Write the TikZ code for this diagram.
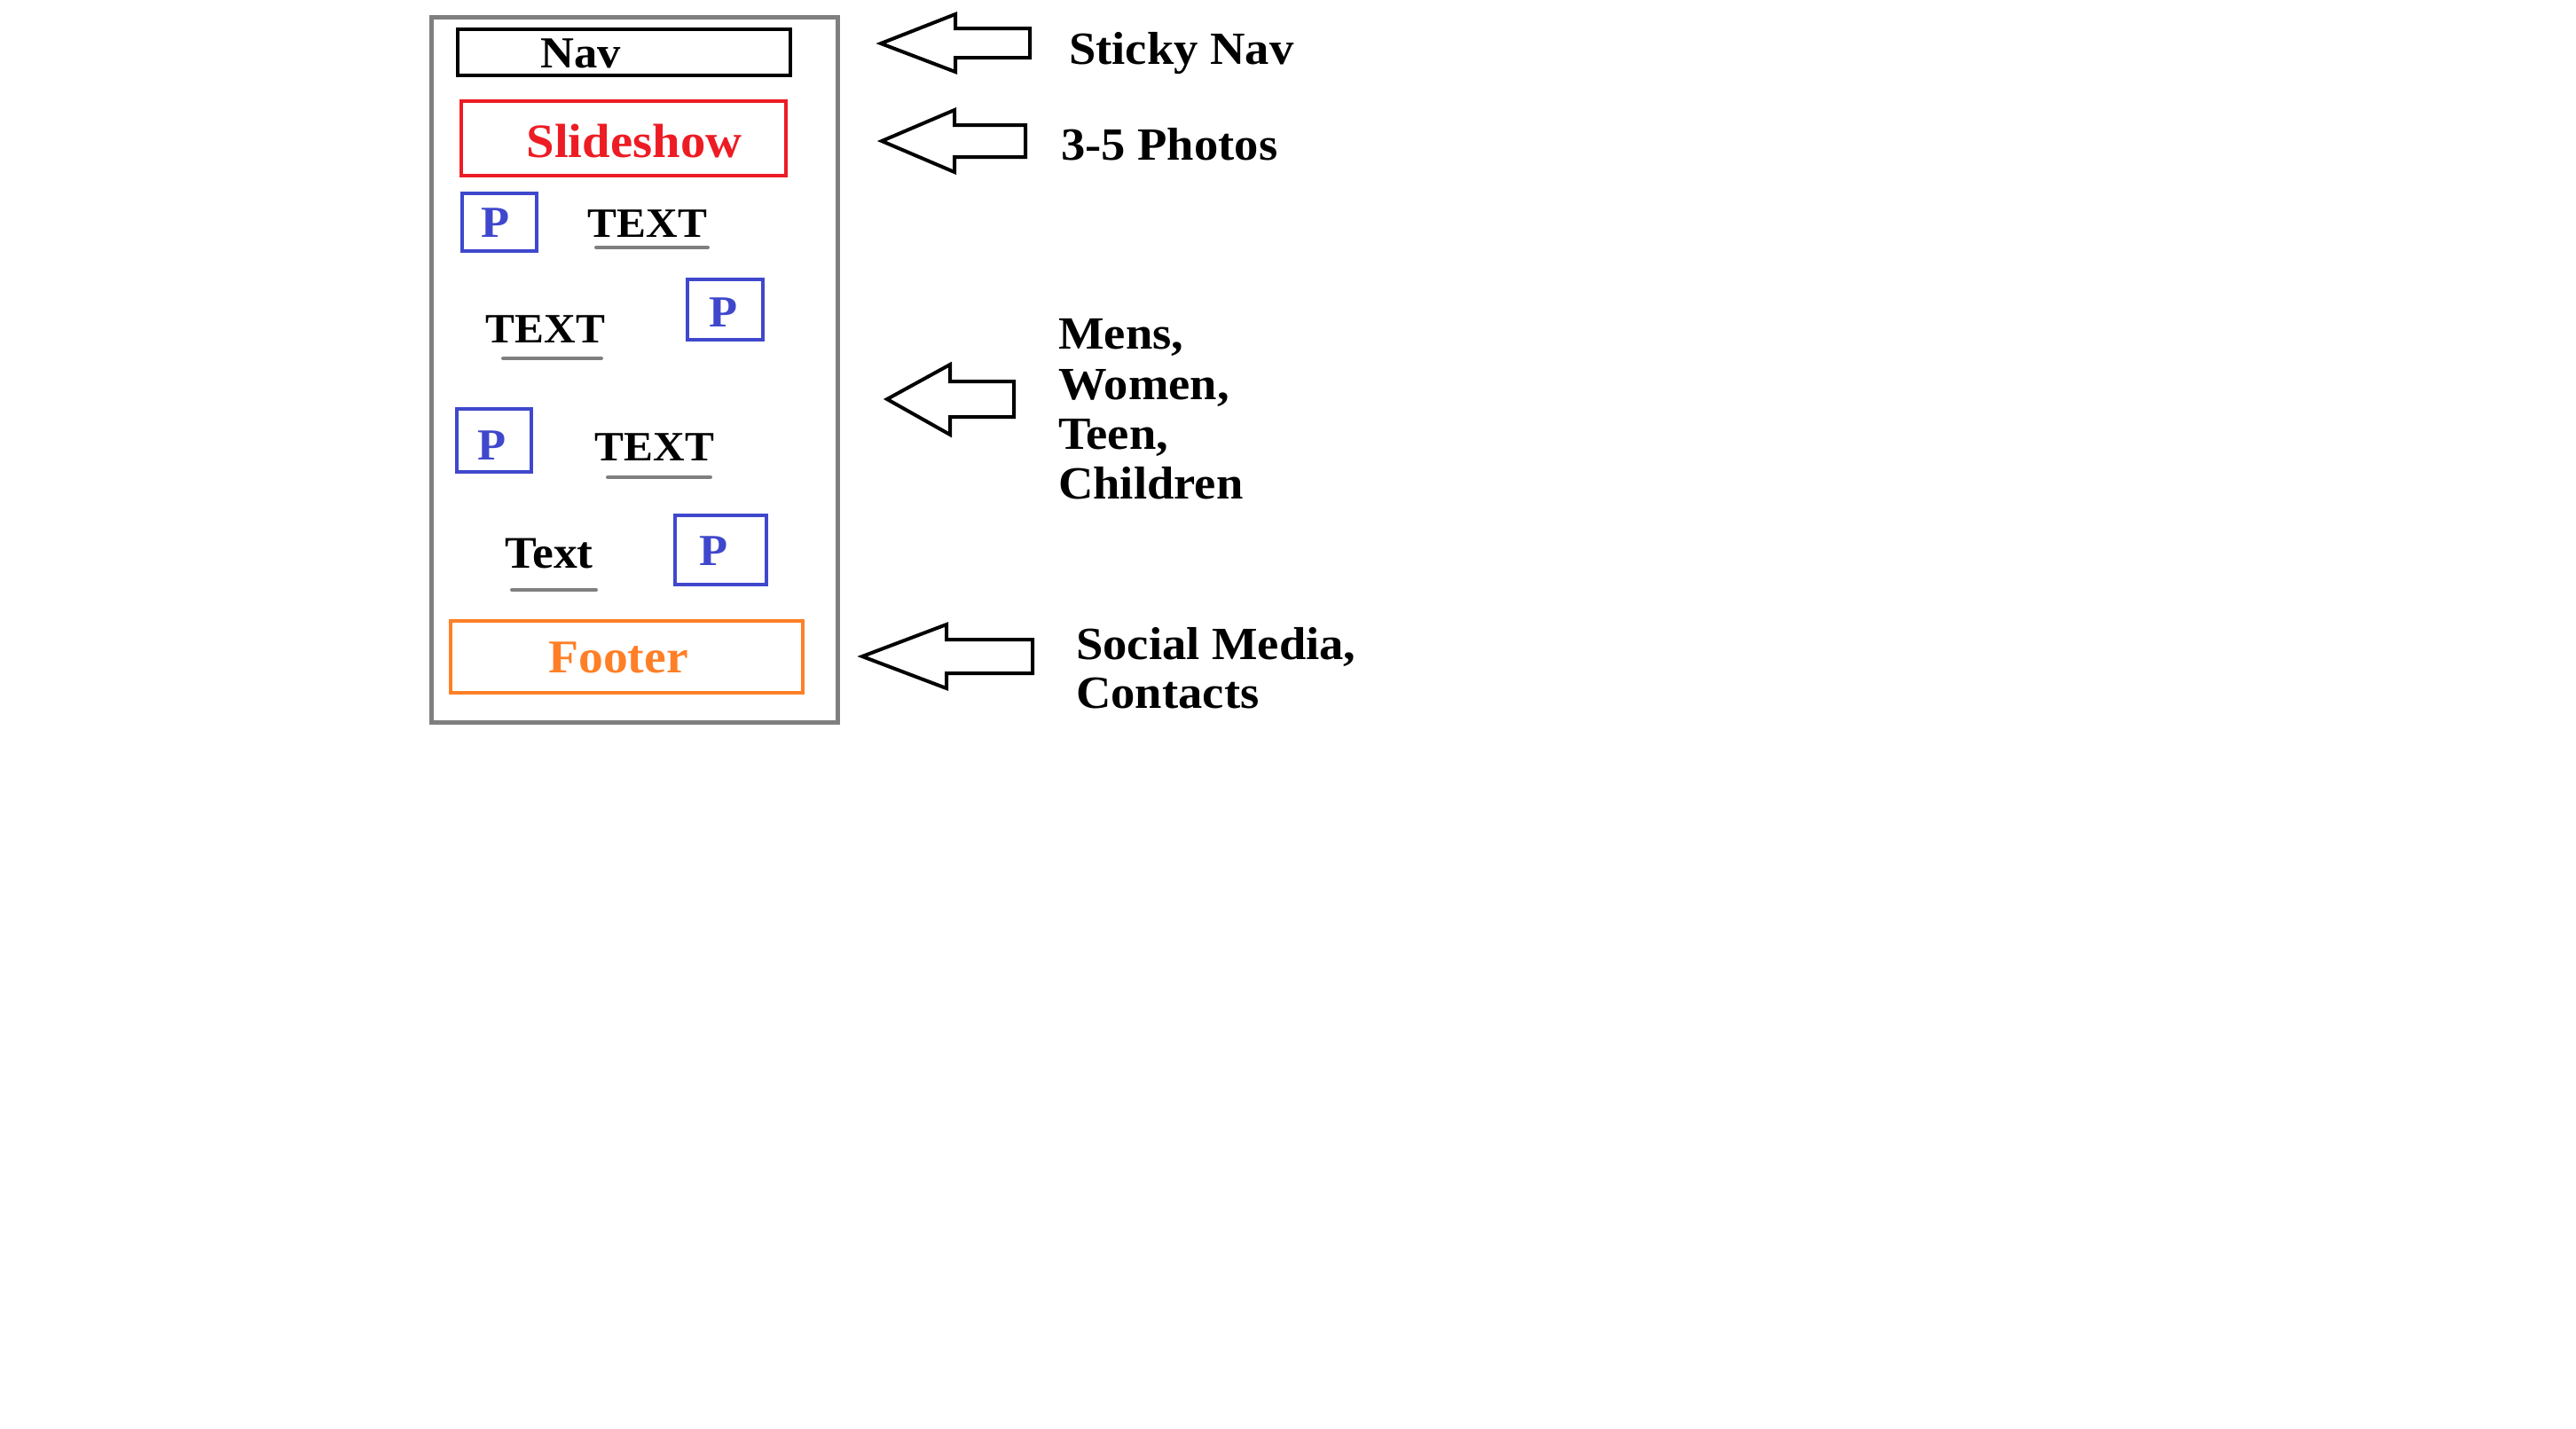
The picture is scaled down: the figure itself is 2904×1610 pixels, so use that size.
\documentclass[tikz,border=0pt]{standalone}
\usepackage{fontspec}
\setmainfont{Liberation Serif}[FakeStretch=1.05]
\definecolor{pred}{HTML}{ED1C24}
\definecolor{pblue}{HTML}{3F48CC}
\definecolor{porange}{HTML}{FF7F27}
\definecolor{pgray}{HTML}{7F7F7F}
\begin{document}
\begin{tikzpicture}[x=1pt,y=-1pt,
  box/.style={draw,line width=4pt,inner sep=0pt},
  lbl/.style={font=\fontsize{50}{56}\selectfont\bfseries,inner sep=0pt,anchor=base},
  rlbl/.style={font=\fontsize{52}{56}\selectfont\bfseries,inner sep=0pt,anchor=base west},
  uline/.style={draw=pgray,line width=4pt,line cap=round},
  barrow/.style={draw,line width=4pt,line join=miter}]
\useasboundingbox (0,0) rectangle (2904,1610);
% outer frame
\draw[draw=pgray,line width=5pt] (486,19) rectangle (944,814);
% boxes
\node[box,minimum width=375pt,minimum height=52pt] (nav) at (703.5,59) {};
\node[box,draw=pred,minimum width=366pt,minimum height=84pt] (slide) at (703,156) {};
\node[box,draw=pblue,minimum width=84pt,minimum height=65pt] (p1) at (563,250.5) {};
\node[box,draw=pblue,minimum width=85pt,minimum height=68pt] (p2) at (817.5,349) {};
\node[box,draw=pblue,minimum width=84pt,minimum height=71pt] (p3) at (557,496.5) {};
\node[box,draw=pblue,minimum width=103pt,minimum height=78pt] (p4) at (812.5,620) {};
\node[box,draw=porange,minimum width=397pt,minimum height=81pt] (foot) at (706.5,740.5) {};
% texts in boxes
\node[lbl] (navt) at (655,76) {Nav};
\node[lbl,font=\fontsize{54}{56}\selectfont\bfseries,text=pred] (slidet) at (715,177) {Slideshow};
\node[lbl,text=pblue] (p1t) at (558.5,267) {P};
\node[lbl,text=pblue] (p2t) at (816,368) {P};
\node[lbl,text=pblue] (p3t) at (555,518) {P};
\node[lbl,text=pblue] (p4t) at (805,637) {P};
\node[lbl,font=\fontsize{53}{56}\selectfont\bfseries,text=porange] (foott) at (697,758) {Footer};
% text items
\node[lbl,font=\fontsize{47}{56}\selectfont\bfseries] (t1) at (730,267) {TEXT};
\node[lbl,font=\fontsize{47}{56}\selectfont\bfseries] (t2) at (615,386) {TEXT};
\node[lbl,font=\fontsize{47}{56}\selectfont\bfseries] (t3) at (738,519) {TEXT};
\node[lbl,font=\fontsize{51}{56}\selectfont\bfseries] (t4) at (619,640) {Text};
\draw[uline] (672,279) -- (798,279);
\draw[uline] (567,404) -- (678,404);
\draw[uline] (685,538) -- (801,538);
\draw[uline] (577,665) -- (672,665);
% block arrows
\draw[barrow] (993,49) -- (1077,16) -- (1077,32) -- (1161,32) -- (1161,65) -- (1077,65) -- (1077,81) -- cycle;
\draw[barrow] (994,159) -- (1076,124) -- (1076,141) -- (1156,141) -- (1156,177) -- (1076,177) -- (1076,194) -- cycle;
\draw[barrow] (1000,450) -- (1071,411) -- (1071,430) -- (1143,430) -- (1143,470) -- (1071,470) -- (1071,490) -- cycle;
\draw[barrow] (972,740) -- (1067,704) -- (1067,721) -- (1164,721) -- (1164,759) -- (1067,759) -- (1067,776) -- cycle;
% right labels
\node[rlbl] (r1) at (1205,72) {Sticky Nav};
\node[rlbl] (r2) at (1196,180) {3-5 Photos};
\node[rlbl] (r3a) at (1193,393) {Mens,};
\node[rlbl] (r3b) at (1193,450) {Women,};
\node[rlbl] (r3c) at (1193,506) {Teen,};
\node[rlbl] (r3d) at (1193,562) {Children};
\node[rlbl] (r4a) at (1213,743) {Social Media,};
\node[rlbl] (r4b) at (1213,798) {Contacts};
\end{tikzpicture}
\end{document}
